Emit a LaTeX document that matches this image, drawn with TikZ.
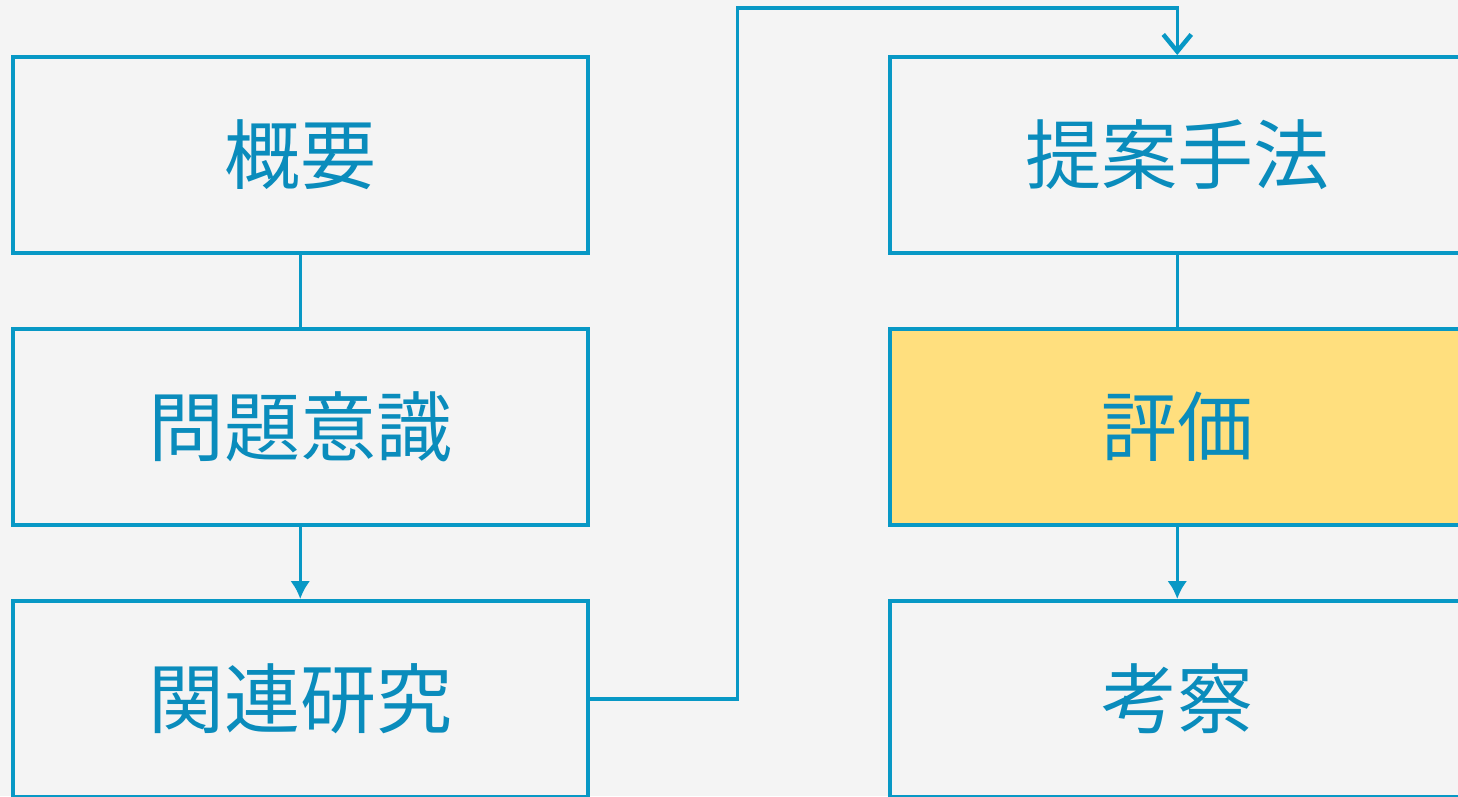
\documentclass[tikz,border=0pt]{standalone}
\usepackage{fontspec}
\newfontfamily\cjk{Noto Sans CJK JP}
\usetikzlibrary{arrows.meta}
\definecolor{bg}{HTML}{F4F4F4}
\definecolor{ln}{HTML}{0898C5}
\definecolor{tx}{HTML}{0A8CBC}
\definecolor{hl}{HTML}{FFDF7E}
\tikzset{
  box/.style={draw=ln, line width=3.5pt, fill=bg, minimum width=575pt, minimum height=196pt, inner sep=0pt, anchor=north west},
  lbl/.style={text=tx, font=\cjk\fontsize{76pt}{80pt}\selectfont},
  conn/.style={draw=ln, line width=3.5pt},
  fillarrow/.style={conn, -{Latex[length=18pt,width=20pt]}},
  openarrow/.style={conn, -{Straight Barb[length=17pt,width=28pt,line width=4.5pt]}}
}
\begin{document}
\begin{tikzpicture}[x=1pt,y=-1pt]
\useasboundingbox (0,0) rectangle (1458,796);
\clip (0,0) rectangle (1458,796);
\fill[bg] (0,0) rectangle (1458,796);
\node[box] (a) at (11,55) {};
\node[box] (b) at (11,327) {};
\node[box] (c) at (11,599) {};
\node[box] (d) at (888,55) {};
\node[box, fill=hl] (e) at (888,327) {};
\node[box] (f) at (888,599) {};
\node[lbl] at (a.center) {概要};
\node[lbl] at (b.center) {問題意識};
\node[lbl] at (c.center) {関連研究};
\node[lbl] at (d.center) {提案手法};
\node[lbl] at (e.center) {評価};
\node[lbl] at (f.center) {考察};
\draw[conn] (a.south) -- (b.north);
\draw[fillarrow] (b.south) -- (c.north);
\draw[conn] (d.south) -- (e.north);
\draw[fillarrow] (e.south) -- (f.north);
\coordinate (k1) at (737.5,8);
\draw[openarrow] (c.east) -| (k1) -| (d.north);
\end{tikzpicture}
\end{document}
